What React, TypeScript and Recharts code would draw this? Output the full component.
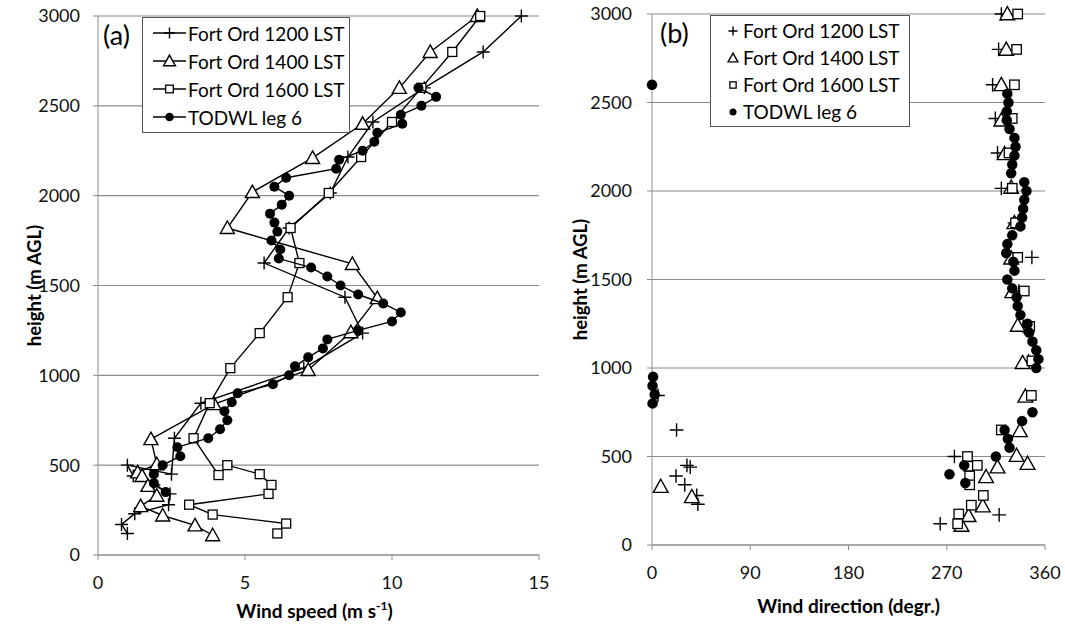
import { ScatterChart, Scatter, XAxis, YAxis, CartesianGrid, Legend, Customized } from "recharts";

const FONT = "Lato, 'Open Sans', sans-serif";

const heightTicks = [0, 500, 1000, 1500, 2000, 2500, 3000];
const speedTicks = [0, 5, 10, 15];
const dirTicks = [0, 90, 180, 270, 360];
const seriesNames = ["Fort Ord 1200 LST", "Fort Ord 1400 LST", "Fort Ord 1600 LST", "TODWL leg 6"];

// Fort Ord soundings (height m AGL, speed m/s, direction deg)
const fo1200Height = [3000, 2800, 2600, 2410, 2215, 2015, 1820, 1625, 1435, 1235, 1040, 845, 650, 450, 500, 440, 390, 340, 280, 230, 170, 120];
const fo1200Speed = [14.4, 13.1, 11.1, 9.35, 8.5, 7.9, 6.5, 5.65, 8.4, 9.0, 7.0, 3.5, 2.6, 2.5, 1.0, 1.2, 1.9, 2.45, 2.4, 1.25, 0.8, 1.0];
const fo1200Dir = [320, 317.5, 312, 314.5, 316.5, 320, 332, 348, 336, 340, 345, 5.5, 22.5, 32, 277, 35, 22, 30, 41, 42, 318, 264];

const fo1400Height = [3000, 2800, 2600, 2400, 2210, 2020, 1820, 1620, 1430, 1240, 1030, 840, 645, 505, 460, 440, 385, 330, 272, 220, 165, 110];
const fo1400Speed = [12.9, 11.3, 10.25, 9.0, 7.3, 5.25, 4.4, 8.65, 9.5, 8.6, 7.15, 3.95, 1.8, 2.0, 1.35, 1.5, 1.7, 2.0, 1.45, 2.2, 3.3, 3.9];
const fo1400Dir = [325.5, 324.5, 320, 320, 323, 329, 332, 329, 330, 335, 339.5, 342, 337, 334, 344, 316.5, 306, 8, 36.5, 303, 290, 283.5];

const fo1600Height = [3000, 2800, 2600, 2410, 2215, 2015, 1820, 1625, 1435, 1235, 1040, 845, 650, 445, 500, 450, 390, 340, 280, 225, 175, 120];
const fo1600Speed = [13.0, 12.05, 11.0, 10.0, 8.95, 7.85, 6.55, 6.85, 6.45, 5.5, 4.5, 3.8, 3.25, 4.1, 4.4, 5.5, 5.9, 5.8, 3.1, 3.9, 6.4, 6.1];
const fo1600Dir = [335, 334, 332, 330, 327, 330, 333, 335, 341, 346, 348, 347.5, 320, 290, 289, 298, 291, 291, 303.5, 292.5, 281, 280];

// TODWL leg 6 profile
const todwlHeight = [2600, 2550, 2500, 2450, 2400, 2350, 2300, 2250, 2200, 2150, 2100, 2050, 2000, 1950, 1900, 1850, 1800, 1750, 1700, 1650, 1600, 1550, 1500, 1450, 1400, 1350, 1300, 1250, 1200, 1150, 1100, 1050, 1000, 950, 900, 850, 800, 750, 700, 650, 600, 550, 500, 450, 400, 350];
const todwlSpeed = [10.9, 11.5, 11.0, 10.3, 10.35, 9.5, 9.4, 9.0, 8.2, 8.1, 6.4, 6.0, 6.5, 6.25, 5.85, 6.0, 6.1, 5.9, 6.2, 6.15, 7.25, 7.8, 8.25, 8.85, 9.7, 10.3, 10.0, 8.85, 7.8, 7.65, 7.15, 6.7, 6.5, 5.95, 4.75, 4.55, 4.3, 4.4, 4.15, 3.75, 2.7, 2.8, 2.2, 1.9, 1.9, 2.3];
const todwlDir = [0, 325.5, 326.5, 325, 325, 327.5, 332, 333, 332, 330, 329, 341, 343, 341, 340, 339, 337.5, 330, 325.5, 324.5, 331, 332, 325.5, 330, 334, 335, 337.5, 344, 345.5, 348.5, 352, 354, 352, 1, 0.5, 2.5, 0.5, 348.5, 339, 323, 326, 327.5, 315, 286, 272.5, 287];

function zip(h: number[], v: number[]) {
  return h.map((y, i) => ({ x: v[i], y }));
}

const speedSeries = [
  zip(fo1200Height, fo1200Speed),
  zip(fo1400Height, fo1400Speed),
  zip(fo1600Height, fo1600Speed),
  zip(todwlHeight, todwlSpeed),
];
const dirSeries = [
  zip(fo1200Height, fo1200Dir),
  zip(fo1400Height, fo1400Dir),
  zip(fo1600Height, fo1600Dir),
  zip(todwlHeight, todwlDir),
];

function marker(kind: number, cx: number, cy: number, s = 1) {
  if (kind === 0)
    return <path d={`M${cx - 6.5 * s},${cy}H${cx + 6.5 * s}M${cx},${cy - 6.5 * s}V${cy + 6.5 * s}`} stroke="#000" strokeWidth={1.4} fill="none" />;
  if (kind === 1)
    return <polygon points={`${cx},${cy - 7 * s} ${cx + 7 * s},${cy + 5.5 * s} ${cx - 7 * s},${cy + 5.5 * s}`} fill="#fff" stroke="#000" strokeWidth={1.4} />;
  if (kind === 2)
    return <rect x={cx - 4.5 * s} y={cy - 4.5 * s} width={9 * s} height={9 * s} fill="#fff" stroke="#000" strokeWidth={1.3} />;
  return <circle cx={cx} cy={cy} r={5 * s} fill="#000" />;
}

const tickStyle = { fontSize: 18, fontFamily: FONT, fill: "#111" };
const gridColor = "#8c8c8c";

function LegendBox({ withLines, rowH, width, markerX, textX }: any) {
  return (
    <div style={{ border: "1px solid #555", background: "#fff", width, padding: "1px 0", fontFamily: FONT, fontSize: 19, color: "#000", boxSizing: "border-box" }}>
      {seriesNames.map((n, i) => (
        <div key={n} style={{ display: "flex", alignItems: "center", height: rowH }}>
          <svg width={textX} height={20} style={{ flex: "none" }}>
            {withLines && <line x1={10} x2={43} y1={10} y2={10} stroke="#000" strokeWidth={1.3} />}
            {marker(i, markerX, 10, withLines ? 0.85 : 0.7)}
          </svg>
          <span style={{ whiteSpace: "nowrap" }}>{n}</span>
        </div>
      ))}
    </div>
  );
}

function HeightTitle(dx: number) {
  return ({ viewBox }: any) => {
    const x = viewBox.x + dx;
    const y = viewBox.y + viewBox.height / 2;
    return (
      <text x={x} y={y} transform={`rotate(-90 ${x} ${y})`} textAnchor="middle" dominantBaseline="central" fontFamily={FONT} fontWeight="bold" fontSize={18.5} fill="#000">
        height (m AGL)
      </text>
    );
  };
}

export default function App() {
  return (
    <div style={{ position: "absolute", left: 0, top: 0, width: 1065, height: 627, background: "#fff" }}>
      <div style={{ position: "absolute", left: 0, top: 0 }}>
        <ScatterChart width={560} height={627} margin={{ top: 16, right: 21, bottom: 0, left: 38 }}>
          <CartesianGrid vertical={false} stroke={gridColor} strokeWidth={1.2} />
          <XAxis
            type="number"
            dataKey="x"
            domain={[0, 15]}
            ticks={speedTicks}
            height={72}
            stroke={gridColor}
            tickSize={5}
            tickMargin={16}
            tick={tickStyle}
            label={{
              content: ({ viewBox }: any) => (
                <text x={viewBox.x + viewBox.width / 2 - 4} y={viewBox.y + 63} textAnchor="middle" fontFamily={FONT} fontWeight="bold" fontSize={19} fill="#000">
                  Wind speed (m s<tspan dy={-8} fontSize={12}>-1</tspan>
                  <tspan dy={8}>)</tspan>
                </text>
              ),
            }}
          />
          <YAxis
            type="number"
            dataKey="y"
            domain={[0, 3000]}
            ticks={heightTicks}
            width={60}
            stroke={gridColor}
            tickSize={5}
            tickMargin={13}
            tick={tickStyle}
            label={{ content: HeightTitle(-4) }}
          />
          {speedSeries.map((d, i) => (
            <Scatter
              key={i}
              name={seriesNames[i]}
              data={d}
              line={{ stroke: "#000", strokeWidth: 1.4 }}
              shape={(p: any) => marker(i, p.cx, p.cy)}
              isAnimationActive={false}
            />
          ))}
          <Legend
            layout="vertical"
            align="center"
            verticalAlign="middle"
            wrapperStyle={{ left: 142, top: 17, width: 208, height: "auto" }}
            content={() => <LegendBox withLines rowH={28} width={208} markerX={26.5} textX={45} />}
          />
          <Customized component={() => <text x={103} y={45} fontFamily={FONT} fontSize={27} fill="#000">(a)</text>} />
        </ScatterChart>
      </div>
      <div style={{ position: "absolute", left: 540, top: 0 }}>
        <ScatterChart width={525} height={627} margin={{ top: 14, right: 20, bottom: 0, left: 52 }}>
          <CartesianGrid vertical={false} stroke={gridColor} strokeWidth={1.2} />
          <XAxis
            type="number"
            dataKey="x"
            domain={[0, 360]}
            ticks={dirTicks}
            height={82}
            stroke={gridColor}
            tickSize={5}
            tickMargin={16}
            tick={tickStyle}
            label={{
              content: ({ viewBox }: any) => (
                <text x={viewBox.x + viewBox.width / 2} y={viewBox.y + 68} textAnchor="middle" fontFamily={FONT} fontWeight="bold" fontSize={19} fill="#000">
                  Wind direction (degr.)
                </text>
              ),
            }}
          />
          <YAxis
            type="number"
            dataKey="y"
            domain={[0, 3000]}
            ticks={heightTicks}
            width={60}
            stroke={gridColor}
            tickSize={5}
            tickMargin={15}
            tick={tickStyle}
            label={{ content: HeightTitle(-12) }}
          />
          {dirSeries.map((d, i) => (
            <Scatter
              key={i}
              name={seriesNames[i]}
              data={d}
              shape={(p: any) => marker(i, p.cx, p.cy, 1.05)}
              isAnimationActive={false}
            />
          ))}
          <Legend
            layout="vertical"
            align="center"
            verticalAlign="middle"
            wrapperStyle={{ left: 170, top: 15, width: 200, height: "auto" }}
            content={() => <LegendBox rowH={27} width={200} markerX={22} textX={32} />}
          />
          <Customized component={() => <text x={120} y={43} fontFamily={FONT} fontSize={27} fill="#000">(b)</text>} />
        </ScatterChart>
      </div>
    </div>
  );
}
